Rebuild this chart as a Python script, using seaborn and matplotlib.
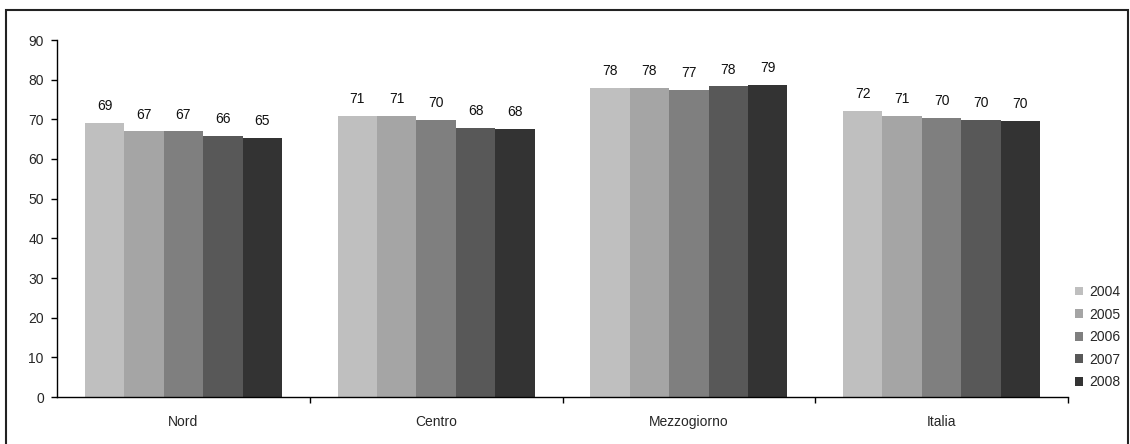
import matplotlib
matplotlib.use("Agg")
import matplotlib.pyplot as plt
import seaborn as sns
import pandas as pd
from matplotlib.patches import Rectangle
from matplotlib.ticker import FixedLocator, MultipleLocator

# Values by geographic area, one list per year
regions = ["Nord", "Centro", "Mezzogiorno", "Italia"]
years = ["2004", "2005", "2006", "2007", "2008"]
v2004 = [69.1, 70.8, 77.9, 72.1]
v2005 = [67.0, 70.8, 77.9, 70.8]
v2006 = [67.0, 69.8, 77.4, 70.3]
v2007 = [65.8, 67.8, 78.3, 69.8]
v2008 = [65.4, 67.6, 78.6, 69.6]
series = [v2004, v2005, v2006, v2007, v2008]

colors = ["#bfbfbf", "#a5a5a5", "#7f7f7f", "#585858", "#333333"]

rows = []
for year, vals in zip(years, series):
    for reg, v in zip(regions, vals):
        rows.append({"region": reg, "year": year, "value": v})
df = pd.DataFrame(rows)

sns.set_style("white")
plt.rcParams["font.family"] = ["Liberation Sans", "DejaVu Sans"]

fig = plt.figure(figsize=(11.3, 4.44), dpi=100)
ax = fig.add_axes([57 / 1130, 47 / 444, (1068 - 57) / 1130, (397 - 40) / 444])

sns.barplot(data=df, x="region", y="value", hue="year", hue_order=years,
            order=regions, palette=colors, saturation=1, width=0.78,
            linewidth=0, ax=ax, legend=True)

for cont in ax.containers:
    ax.bar_label(cont, fmt="%.0f", padding=7, fontsize=10, color="#111111")

ax.set_ylim(0, 90)
ax.set_xlim(-0.5, 3.5)
ax.yaxis.set_major_locator(MultipleLocator(10))
ax.set_xlabel("")
ax.set_ylabel("")

for side in ["top", "right"]:
    ax.spines[side].set_visible(False)
for side in ["left", "bottom"]:
    ax.spines[side].set_color("black")
    ax.spines[side].set_linewidth(1.0)

ax.tick_params(axis="y", which="major", direction="out", length=4.5, width=1,
               color="black", pad=5, labelsize=10, left=True)
ax.tick_params(axis="x", which="major", length=0, pad=13, labelsize=10)
ax.xaxis.set_minor_locator(FixedLocator([0.5, 1.5, 2.5, 3.5]))
ax.tick_params(axis="x", which="minor", direction="out", length=4.5, width=1,
               color="black", bottom=True)

handles, labels = ax.get_legend_handles_labels()
ax.get_legend().remove()
fig.legend(handles, labels, loc="upper left",
           bbox_to_anchor=(1068 / 1130, (444 - 278) / 444),
           bbox_transform=fig.transFigure, frameon=False, fontsize=10,
           handlelength=0.6, handleheight=0.6, handletextpad=0.4,
           labelspacing=0.62, borderpad=0)

# Surrounding frame of the chart area
fig.patches.append(Rectangle((6 / 1130, -0.05), 1122 / 1130, 1.05 - 10 / 444,
                             transform=fig.transFigure, fill=False,
                             edgecolor="#222222", linewidth=1.5))

fig.savefig("out.png", dpi=100)
